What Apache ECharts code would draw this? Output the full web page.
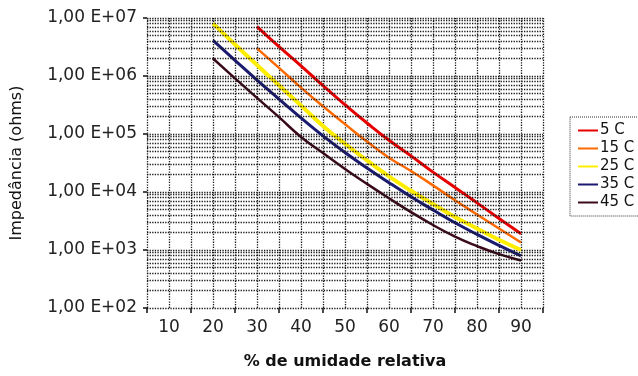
<!DOCTYPE html>
<html>
<head>
<meta charset="utf-8">
<script src="https://cdn.jsdelivr.net/npm/echarts@6/dist/echarts.min.js"></script>
<style>
  html, body { margin: 0; padding: 0; background: #fff; }
  #chart { width: 638px; height: 376px; }
</style>
</head>
<body>
<div id="chart"></div>
<script>
// % umidade relativa
var humidity = [20, 25, 30, 35, 40, 45, 50, 55, 60, 65, 70, 75, 80, 85, 90]
// impedancia (ohms) por temperatura
var t5 = [null, null, 7.1e6, 3.2e6, 1.5e6, 6.8e5, 3.2e5, 1.55e5, 7.8e4, 4.2e4, 2.2e4, 1.2e4, 6.5e3, 3.5e3, 1.9e3]
var t15 = [null, null, 3.0e6, 1.38e6, 6.3e5, 3.0e5, 1.48e5, 7.4e4, 3.9e4, 2.3e4, 1.3e4, 7.2e3, 4.1e3, 2.35e3, 1.35e3]
var t25 = [8.1e6, 3.5e6, 1.55e6, 6.9e5, 3.1e5, 1.38e5, 6.8e4, 3.5e4, 1.86e4, 1.05e4, 6.2e3, 3.7e3, 2.35e3, 1.5e3, 1.0e3]
var t35 = [4.1e6, 1.86e6, 8.5e5, 4.0e5, 1.9e5, 9.3e4, 4.8e4, 2.6e4, 1.45e4, 8.3e3, 4.9e3, 2.95e3, 1.86e3, 1.2e3, 790]
var t45 = [2.0e6, 9.1e5, 4.2e5, 1.95e5, 8.9e4, 4.7e4, 2.5e4, 1.38e4, 7.8e3, 4.5e3, 2.7e3, 1.7e3, 1.17e3, 850, 660]
var seriesNames = ['5 C', '15 C', '25 C', '35 C', '45 C']

var colors = ['#e60000', '#ff6a00', '#ffee00', '#1a1a6e', '#3a0a1c']
var widths = [3, 2.5, 4, 3, 2.5]
var font = '"DejaVu Sans", sans-serif'

// linhas secundarias da escala log (2..9 em cada decada)
var minorLines = []
for (var d = 2; d < 7; d++) {
  for (var m = 2; m < 10; m++) {
    minorLines.push({ yAxis: m * Math.pow(10, d) })
  }
}

function pairs (ys) {
  return humidity.map(function (x, i) { return [x, ys[i]] }).filter(function (p) { return p[1] !== null })
}

var allData = [t5, t15, t25, t35, t45]
var grid = { type: 'dotted', color: '#1a1a1a', width: 1.3 }

var series = allData.map(function (ys, i) {
  return {
    name: seriesNames[i],
    type: 'line',
    smooth: true,
    symbol: 'none',
    z: 3,
    lineStyle: { color: colors[i], width: widths[i] },
    itemStyle: { color: colors[i] },
    data: pairs(ys)
  }
})
series.push({
  type: 'line',
  data: [],
  silent: true,
  markLine: {
    silent: true,
    symbol: 'none',
    animation: false,
    label: { show: false },
    lineStyle: grid,
    data: minorLines
  }
})

var option = {
  animation: false,
  backgroundColor: '#fff',
  grid: { left: 147, top: 18, right: 95, bottom: 68 },
  legend: {
    data: seriesNames,
    orient: 'vertical',
    left: 570,
    top: 117,
    padding: [6, 60, 6, 8],
    itemGap: 3,
    itemWidth: 20,
    itemHeight: 2,
    icon: 'rect',
    borderColor: '#333',
    borderWidth: 1,
    borderType: 'dotted',
    textStyle: { fontFamily: font, fontSize: 15, color: '#111', padding: [0, 0, 0, -3] }
  },
  xAxis: [{
    type: 'value',
    min: 5,
    max: 95,
    interval: 5,
    name: '% de umidade relativa',
    nameLocation: 'middle',
    nameGap: 46,
    nameTextStyle: { fontFamily: font, fontSize: 16, fontWeight: 'bold', color: '#111' },
    axisLine: { show: false },
    axisTick: { show: false },
    axisLabel: {
      margin: 11,
      fontFamily: font,
      fontSize: 17,
      color: '#222',
      formatter: function (v) { return v % 10 === 0 ? String(v) : '' }
    },
    splitLine: { show: true, lineStyle: grid }
  }, {
    // marcas abaixo do eixo em 15, 25, ...
    type: 'value',
    position: 'bottom',
    min: 5,
    max: 95,
    interval: 10,
    axisLine: { show: false },
    axisTick: { show: true, length: 5, lineStyle: { color: '#111', width: 1.5 } },
    axisLabel: { show: false },
    splitLine: { show: false }
  }],
  yAxis: {
    type: 'log',
    logBase: 10,
    min: 100,
    max: 1e7,
    name: 'Impedância (ohms)',
    nameLocation: 'middle',
    nameGap: 122,
    nameTextStyle: { fontFamily: font, fontSize: 16, color: '#111' },
    axisLine: { show: false },
    axisTick: { show: true, length: 4, lineStyle: { color: '#111', width: 1.5 } },
    axisLabel: {
      margin: 10,
      fontFamily: font,
      fontSize: 17,
      color: '#222',
      formatter: function (v) {
        var e = Math.round(Math.log10(v))
        return '1,00 E+' + (e < 10 ? '0' : '') + e
      }
    },
    splitLine: { show: true, lineStyle: grid }
  },
  series: series
}

var chart = echarts.init(document.getElementById('chart'))
chart.setOption(option)
</script>
</body>
</html>
